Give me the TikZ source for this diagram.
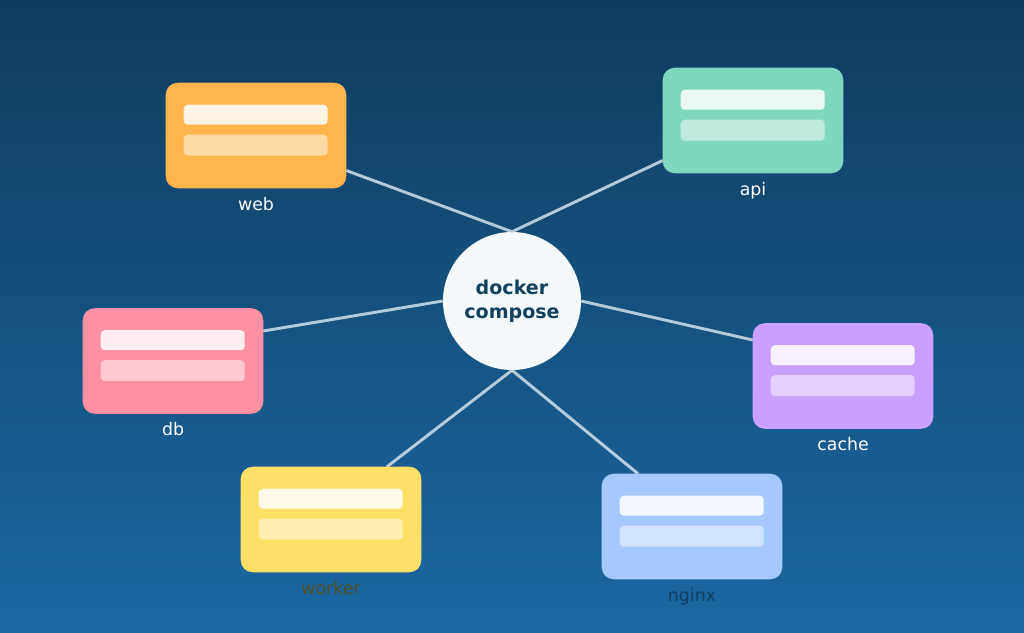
\documentclass[tikz,border=0pt]{standalone}
\usepackage{fontspec}
\setmainfont{DejaVu Sans}
\usetikzlibrary{positioning}
\definecolor{bgtop}{HTML}{0E3C5E}
\definecolor{bgbot}{HTML}{1B68A4}
\definecolor{hubtxt}{HTML}{12405F}
\tikzset{
  svc/.style={rounded corners=9pt,minimum width=135pt,minimum height=78.75pt,inner sep=0pt},
  bar/.style={fill=white,rounded corners=3pt},
  link/.style={draw=white!80!bgbot,line width=2.2pt,opacity=0.85},
  lbl/.style={font=\fontsize{13}{15}\selectfont,text=white}
}
\begin{document}
\begin{tikzpicture}[x=0.75pt,y=-0.75pt]
  \shade [top color=bgtop,bottom color=bgbot] (0,0) rectangle (1024,632);
  \useasboundingbox (0,0) rectangle (1024,632);

  % service placeholders
  \node [svc] (web) at (256,135.5) {};
  \node [svc] (api) at (753,120.5) {};
  \node [svc] (db) at (173,361) {};
  \node [svc] (cache) at (843,376) {};
  \node [svc] (worker) at (331,519.5) {};
  \node [svc] (nginx) at (692,526.5) {};

  % hub
  \node [circle,fill=white!96!bgbot,minimum size=103.5pt,inner sep=0pt,align=center,
    font=\fontsize{14.3}{18}\selectfont\bfseries,text=hubtxt] (hub) at (512,301) {docker\\compose};

  % links
  \draw [link] (hub.north) -- ([yshift=-26.25pt]web.east);
  \draw [link] (hub.north) -- ([yshift=-30pt]api.west);
  \draw [link] (hub.west) -- ([yshift=22.5pt]db.east);
  \draw [link] (hub.east) -- ([yshift=27pt]cache.west);
  \draw [link] (hub.south) -- ([xshift=42pt]worker.north);
  \draw [link] (hub.south) -- ([xshift=-40.5pt]nginx.north);

  % boxes
  \foreach \s/\r/\g/\b in {web/255/181/76,api/127/216/190,db/255/143/163,cache/201/160/255,worker/255/224/102,nginx/165/200/255}{
    \definecolor{tmp}{RGB}{\r,\g,\b}
    \fill [tmp,rounded corners=9pt] (\s.north west) rectangle (\s.south east);
    \fill [bar,opacity=0.85] ([xshift=13.5pt,yshift=-16.5pt]\s.north west) rectangle ([xshift=121.5pt,yshift=-31.5pt]\s.north west);
    \fill [bar,opacity=0.5] ([xshift=13.5pt,yshift=-39pt]\s.north west) rectangle ([xshift=121.5pt,yshift=-54.75pt]\s.north west);
  }

  % labels
  \node [lbl,below=3pt of web] {web};
  \node [lbl,below=3pt of api] {api};
  \node [lbl,below=3pt of db] {db};
  \node [lbl,below=3pt of cache] {cache};
  \node [lbl,below=3pt of worker,text={rgb,255:red,80;green,80;blue,30}] {worker};
  \node [lbl,below=3pt of nginx,text=hubtxt] {nginx};
\end{tikzpicture}
\end{document}
